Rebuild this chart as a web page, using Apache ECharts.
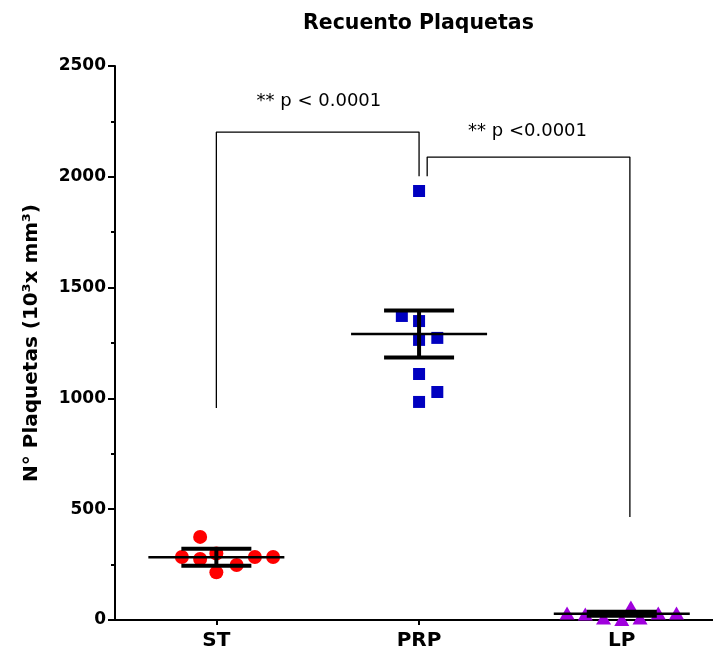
<!DOCTYPE html>
<html>
<head>
	<meta charset="UTF-8" />
	<title>Recuento Plaquetas</title>
	<style>
		html, body { margin: 0; padding: 0; background: #fff; }
		#chart { width: 713px; height: 653px; }
	</style>
	<script type="text/javascript" src="https://cdn.jsdelivr.net/npm/echarts@6/dist/echarts.min.js"></script>
</head>
<body>
	<div id="chart"></div>
	<script>
		// grupos
		var groups = ["ST", "PRP", "LP"];

		// valores de cada punto, y su desplazamiento horizontal (en unidades de grupo)
		var stValues = [284, 375, 275, 300, 215, 248, 284, 284];
		var stJitter = [-0.17, -0.08, -0.08, 0, 0, 0.1, 0.19, 0.28];
		var prpValues = [1372, 1349, 1264, 1273, 1110, 1029, 984, 1936];
		var prpJitter = [-0.085, 0, 0, 0.09, 0, 0.09, 0, 0];
		var lpValues = [32, 27, 9, 2, 59, 9, 32, 32];
		var lpJitter = [-0.27, -0.18, -0.09, 0, 0.045, 0.09, 0.18, 0.27];

		// media y error
		var means = [283, 1291, 28];
		var errors = [38, 106, 9];

		// corchetes de significancia
		var bracketA = [[0, 957], [0, 2202], [1, 2202], [1, 2003]];
		var bracketB = [[1.04, 2003], [1.04, 2089], [2.04, 2089], [2.04, 465]];
		var notes = [[0.506, 2342, "** p < 0.0001"], [1.535, 2207, "** p <0.0001"]];

		var yMin = 0, yMax = 2500, yStep = 500;

		var font = "DejaVu Sans";
		var myChart = echarts.init(document.getElementById("chart"));

		function points(values, jitter, idx) {
			return values.map(function (v, i) {
				return [idx + jitter[i], v];
			});
		}

		var errData = groups.map(function (g, i) {
			return [i, means[i], errors[i]];
		});

		var option = {
			animation: false,
			title: {
				text: "Recuento Plaquetas",
				left: 298,
				top: 8,
				textStyle: { fontFamily: font, fontWeight: "bold", fontSize: 20.5, color: "#000" }
			},
			grid: { left: 115, right: 0, top: 66, bottom: 33, outerBoundsMode: "none" },
			xAxis: {
				type: "value",
				min: -0.5,
				max: 2.45,
				splitLine: { show: false },
				axisLine: { onZero: false, lineStyle: { color: "#000", width: 2 } },
				axisTick: { customValues: [0, 1, 2], length: 5, lineStyle: { color: "#000", width: 2 } },
				axisLabel: {
					customValues: [0, 1, 2],
					margin: 11,
					formatter: function (v) { return groups[Math.round(v)]; },
					fontFamily: font, fontWeight: "bold", fontSize: 20, color: "#000"
				}
			},
			yAxis: {
				type: "value",
				min: yMin,
				max: yMax,
				interval: yStep,
				name: "N° Plaquetas (10³x mm³)",
				nameLocation: "middle",
				nameGap: 73,
				nameTextStyle: { fontFamily: font, fontWeight: "bold", fontSize: 20, color: "#000" },
				splitLine: { show: false },
				axisLine: { show: true, onZero: false, lineStyle: { color: "#000", width: 2 } },
				axisTick: { show: true, length: 7, lineStyle: { color: "#000", width: 2 } },
				minorTick: { show: true, splitNumber: 2, length: 4, lineStyle: { color: "#000", width: 2 } },
				axisLabel: {
					margin: 9,
					formatter: function (v) { return String(v); },
					fontFamily: font, fontWeight: "bold", fontSize: 17, color: "#000"
				}
			},
			series: [
				{
					type: "scatter", symbol: "circle", symbolSize: 14,
					itemStyle: { color: "#ff0000", opacity: 1 },
					data: points(stValues, stJitter, 0)
				},
				{
					type: "scatter", symbol: "rect", symbolSize: 12,
					itemStyle: { color: "#0000c0", opacity: 1 },
					data: points(prpValues, prpJitter, 1)
				},
				{
					type: "scatter", symbol: "triangle", symbolSize: [15, 13],
					itemStyle: { color: "#a000dd", opacity: 1 },
					data: points(lpValues, lpJitter, 2)
				},
				{
					// media +/- error
					type: "custom",
					z: 5,
					data: errData,
					renderItem: function (params, api) {
						var c = api.coord([api.value(0), api.value(1)]);
						var top = api.coord([api.value(0), api.value(1) + api.value(2)]);
						var bot = api.coord([api.value(0), api.value(1) - api.value(2)]);
						var thin = { stroke: "#000", lineWidth: 2.5 };
						var thick = { stroke: "#000", lineWidth: 4 };
						return {
							type: "group",
							children: [
								{ type: "line", shape: { x1: c[0] - 68, y1: c[1], x2: c[0] + 68, y2: c[1] }, style: thin },
								{ type: "line", shape: { x1: c[0], y1: top[1], x2: c[0], y2: bot[1] }, style: thick },
								{ type: "line", shape: { x1: c[0] - 35, y1: top[1], x2: c[0] + 35, y2: top[1] }, style: thick },
								{ type: "line", shape: { x1: c[0] - 35, y1: bot[1], x2: c[0] + 35, y2: bot[1] }, style: thick }
							]
						};
					}
				},
				{
					type: "line", data: bracketA, symbol: "none", silent: true,
					lineStyle: { color: "#000", width: 1.3 }
				},
				{
					type: "line", data: bracketB, symbol: "none", silent: true,
					lineStyle: { color: "#000", width: 1.3 }
				},
				{
					type: "scatter", symbolSize: 0, silent: true,
					itemStyle: { opacity: 1 },
					data: notes.map(function (n) { return { value: [n[0], n[1]], name: n[2] }; }),
					label: {
						show: true, position: "inside",
						formatter: function (p) { return p.name; },
						fontFamily: font, fontSize: 18, color: "#000", textBorderWidth: 0
					}
				}
			]
		};

		myChart.setOption(option);
	</script>
</body>
</html>
